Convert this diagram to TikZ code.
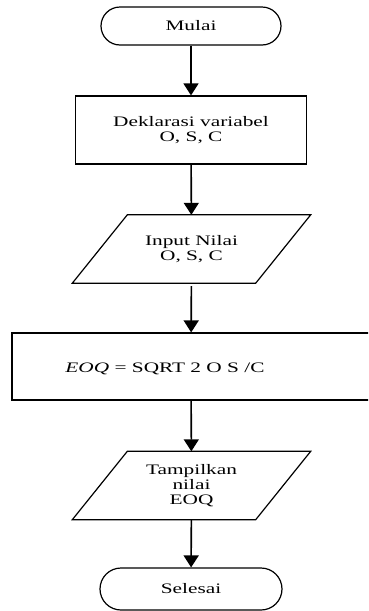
\documentclass[tikz,border=0pt]{standalone}
\usepackage{fontspec}
\setmainfont{Liberation Serif}[FakeStretch=1.47]
\usetikzlibrary{arrows.meta,calc}
\begin{document}
\begin{tikzpicture}[x=1pt,y=-1pt,
  every node/.style={font=\fontsize{14.5}{15}\selectfont, align=center},
  term/.style={draw, line width=1.2pt, rounded corners=19pt, minimum width=180pt, minimum height=38pt, inner sep=0pt},
  procbox/.style={draw, line width=1.2pt, inner sep=0pt},
  iobox/.style={inner sep=0pt, minimum width=128pt, minimum height=68pt},
  ioline/.style={line width=1.2pt, line join=miter},
  flow/.style={line width=1.6pt, -{Triangle[width=15pt,length=12pt]}}]
\useasboundingbox (0,0) rectangle (368,611);
\clip (0,0) rectangle (368,611);

\node[term] (start) at (191,26) {Mulai};
\node[procbox, minimum width=231pt, minimum height=68pt] (decl) at (191,130) {Deklarasi variabel\\O, S, C};
\node[iobox] (inp) at (191.5,249) {Input Nilai\\O, S, C};
\draw[ioline] (inp.north west) -- ($(inp.north east)+(55,0)$) -- (inp.south east) -- ($(inp.south west)+(-55,0)$) -- cycle;
\node[procbox, minimum width=358pt, minimum height=67pt] (calc) at (191,366.5) {};
\node (calctext) at (165,369) {\textit{EOQ} = SQRT 2 O S /C};
\node[iobox] (out) at (191.5,485.5) {Tampilkan\\nilai\\EOQ};
\draw[ioline] (out.north west) -- ($(out.north east)+(55,0)$) -- (out.south east) -- ($(out.south west)+(-55,0)$) -- cycle;
\node[term, minimum width=182pt, minimum height=42pt, rounded corners=21pt] (stop) at (191,589) {Selesai};

\draw[flow] (start) -- (decl);
\draw[flow] (decl) -- (inp);
\draw[flow, shorten <=3pt] (inp) -- (calc);
\draw[flow] (calc) -- (out);
\draw[flow] (out) -- (stop);
\end{tikzpicture}
\end{document}
